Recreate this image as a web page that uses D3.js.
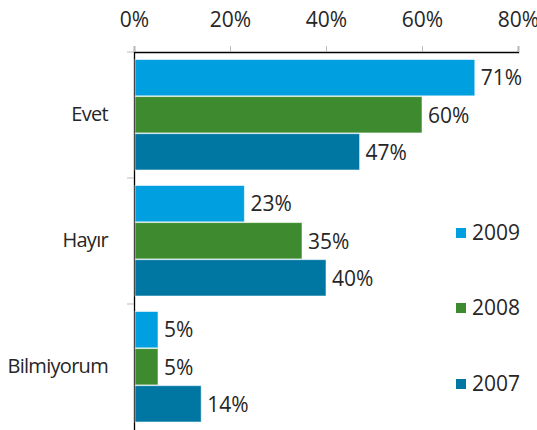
<!DOCTYPE html>
<html>
<head>
<meta charset="utf-8">
<script src="https://cdn.jsdelivr.net/npm/d3@7"></script>
<style>
  html, body { margin: 0; padding: 0; background: #fff; }
  svg text { font-family: "Open Sans", "Noto Sans", sans-serif; fill: #262626; }
</style>
</head>
<body>
<svg id="chart" width="537" height="430"></svg>
<script>
const categories = ["Evet", "Hayır", "Bilmiyorum"];
const years = ["2009", "2008", "2007"];
const values2009 = [71, 23, 5];
const values2008 = [60, 35, 5];
const values2007 = [47, 40, 14];
const xTicks = [0, 20, 40, 60, 80];
const colors = ["#00a0e0", "#3d8a2f", "#0076a3"];

const seriesValues = [values2009, values2008, values2007];
const rows = categories.map((c, i) => ({
  category: c,
  bars: years.map((y, j) => ({ year: y, value: seriesValues[j][i], color: colors[j] }))
}));

const FONT = "'Open Sans', 'Noto Sans', sans-serif";
const svg = d3.select("#chart");
const plotLeft = 134, plotRight = 518, plotTop = 52, plotBottom = 430;

const x = d3.scaleLinear().domain([0, 80]).range([plotLeft, plotRight]);
const y0 = d3.scaleBand().domain(categories).range([plotTop, plotBottom]);
const y1 = d3.scaleBand().domain(years).range([7.5, y0.bandwidth() - 8]).paddingInner(0.02);

// top axis
const xAxis = svg.append("g").attr("transform", `translate(0,${plotTop})`)
  .call(d3.axisTop(x).tickValues(xTicks).tickFormat(d => d + "%").tickSize(6).tickPadding(19));
xAxis.select(".domain").attr("stroke", "#000").attr("stroke-width", 1.3);
xAxis.selectAll(".tick line").attr("stroke", "#bbb");
xAxis.selectAll(".tick text").attr("font-size", 21).attr("fill", "#262626")
  .attr("font-family", FONT);

// left axis
const yAxis = svg.append("g").attr("transform", `translate(${plotLeft},0)`)
  .call(d3.axisLeft(y0).tickSize(0).tickPadding(26));
yAxis.select(".domain").attr("stroke", "#000").attr("stroke-width", 1.3);
yAxis.selectAll(".tick text").attr("font-size", 20).attr("fill", "#262626")
  .attr("letter-spacing", "-0.7px")
  .attr("font-family", FONT);

// group separators on the left axis
const seps = [plotTop, ...categories.slice(1).map(c => y0(c))];
svg.append("g").selectAll("line").data(seps).join("line")
  .attr("x1", plotLeft - 7).attr("x2", plotLeft).attr("y1", d => d).attr("y2", d => d)
  .attr("stroke", "#bbb");

// bars
const groups = svg.append("g").selectAll("g").data(rows).join("g")
  .attr("transform", d => `translate(0,${y0(d.category)})`);

groups.selectAll("rect").data(d => d.bars).join("rect")
  .attr("x", x(0) + 1)
  .attr("y", d => y1(d.year))
  .attr("width", d => x(d.value) - x(0) - 1)
  .attr("height", y1.bandwidth())
  .attr("fill", d => d.color)
  .attr("stroke", "rgba(255,255,255,0.55)")
  .attr("stroke-width", 1);

groups.selectAll("text").data(d => d.bars).join("text")
  .attr("x", d => x(d.value) + 6)
  .attr("y", d => y1(d.year) + y1.bandwidth() / 2)
  .attr("dy", "0.37em")
  .attr("font-size", 21)
  .text(d => d.value + "%");

// legend
const legendY = [233, 308, 384];
const legend = svg.append("g").selectAll("g").data(years).join("g")
  .attr("transform", (d, i) => `translate(456,${legendY[i]})`);
legend.append("rect").attr("x", 0).attr("y", -5).attr("width", 10).attr("height", 10)
  .attr("fill", (d, i) => colors[i]);
legend.append("text").attr("x", 16).attr("y", -1).attr("dy", "0.37em")
  .attr("font-size", 21).text(d => d);
</script>
</body>
</html>
